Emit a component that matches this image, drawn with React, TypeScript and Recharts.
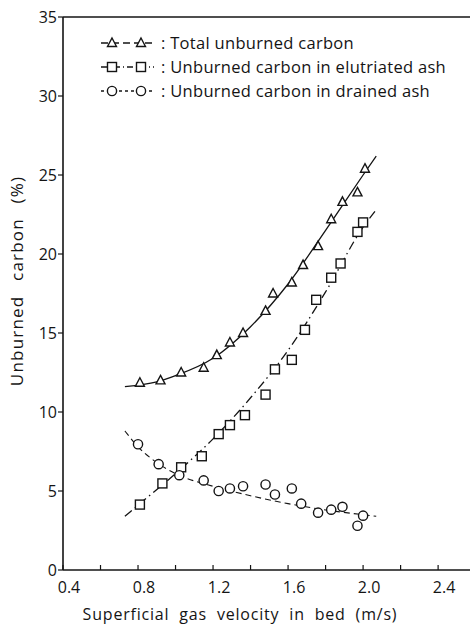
import { ComposedChart, Line, Scatter, XAxis, YAxis, ReferenceLine } from 'recharts'

// measured points
const totalX = [0.81, 0.92, 1.03, 1.15, 1.22, 1.29, 1.36, 1.48, 1.52, 1.62, 1.68, 1.76, 1.83, 1.89, 1.97, 2.01]
const totalY = [11.85, 12.0, 12.5, 12.8, 13.6, 14.4, 15.0, 16.4, 17.5, 18.2, 19.3, 20.5, 22.2, 23.3, 23.9, 25.4]

const elutX = [0.81, 0.93, 1.03, 1.14, 1.23, 1.29, 1.37, 1.48, 1.53, 1.62, 1.69, 1.75, 1.83, 1.88, 1.97, 2.0]
const elutY = [4.14, 5.48, 6.5, 7.2, 8.6, 9.17, 9.8, 11.1, 12.7, 13.3, 15.2, 17.1, 18.5, 19.4, 21.4, 22.0]

const drainX = [0.8, 0.91, 1.02, 1.15, 1.23, 1.29, 1.36, 1.48, 1.53, 1.62, 1.67, 1.76, 1.83, 1.89, 1.97, 2.0]
const drainY = [7.96, 6.7, 6.0, 5.67, 5.0, 5.16, 5.3, 5.41, 4.78, 5.16, 4.2, 3.63, 3.82, 4.0, 2.8, 3.44]

// fitted curves as drawn in the figure
const totalFitX = [0.73, 0.9, 1.0, 1.2, 1.4, 1.6, 1.8, 2.0, 2.07]
const totalFitY = [11.6, 11.9, 12.3, 13.4, 15.4, 18.1, 21.5, 25.0, 26.2]
const elutFitX = [0.73, 0.8, 1.0, 1.2, 1.4, 1.6, 1.8, 2.0, 2.07]
const elutFitY = [3.4, 4.1, 6.1, 8.3, 10.9, 13.9, 17.6, 21.7, 22.8]
const drainFitX = [0.73, 0.8, 0.9, 1.0, 1.2, 1.4, 1.6, 1.8, 2.0, 2.07]
const drainFitY = [8.8, 7.8, 6.8, 6.1, 5.3, 4.7, 4.2, 3.8, 3.5, 3.4]

const xTicks = [0.4, 0.6, 0.8, 1.0, 1.2, 1.4, 1.6, 1.8, 2.0, 2.2, 2.4]
const yTicks = [0, 5, 10, 15, 20, 25, 30, 35]

const toPts = (xs: number[], ys: number[]) => xs.map((x, i) => ({ x, y: ys[i] }))

const INK = '#141414'
const FONT = '"Open Sans", sans-serif'

function Tri({ cx, cy }: any) {
  return <path d={`M${cx},${cy - 5} L${cx + 4.5},${cy + 3.5} L${cx - 4.5},${cy + 3.5} Z`} fill="#fff" stroke={INK} strokeWidth={1.4} />
}
function Sq({ cx, cy }: any) {
  return <rect x={cx - 4.5} y={cy - 4.5} width={9} height={9} fill="#fff" stroke={INK} strokeWidth={1.4} />
}
function Circ({ cx, cy }: any) {
  return <circle cx={cx} cy={cy} r={4.6} fill="#fff" stroke={INK} strokeWidth={1.4} />
}

function XTick({ x, y, payload }: any) {
  const v = payload.value
  const major = Math.round(v * 10) % 4 === 0
  return (
    <g>
      <line x1={x} y1={y} x2={x} y2={y - 5} stroke={INK} strokeWidth={1.2} />
      {major && (
        <text x={x + 6} y={y + 23} textAnchor="middle" fontSize={16} fontFamily={FONT} fill={INK}>
          {v.toFixed(1)}
        </text>
      )}
    </g>
  )
}

function XTitle() {
  return (
    <text x={240} y={620} textAnchor="middle" fontSize={16} letterSpacing={0.8} wordSpacing={5} fontFamily={FONT} fill={INK}>
      Superficial gas velocity in bed (m/s)
    </text>
  )
}

function YTitle() {
  const cx = 16
  const cy = 281
  return (
    <text x={cx} y={cy} transform={`rotate(-90 ${cx} ${cy})`} textAnchor="middle" dominantBaseline="central" fontSize={17} letterSpacing={1.2} wordSpacing={9} fontFamily={FONT} fill={INK}>
      Unburned carbon (%)
    </text>
  )
}

const legendRows = [
  { label: 'Total unburned carbon', Mark: Tri, dash: '7 4' },
  { label: 'Unburned carbon in elutriated ash', Mark: Sq, dash: '6 3 1 3' },
  { label: 'Unburned carbon in drained ash', Mark: Circ, dash: '3 3' },
]

function LegendBox() {
  return (
    <div style={{ position: 'absolute', left: 100, top: 31, fontFamily: FONT, fontSize: 16.5, color: INK, lineHeight: '24px', whiteSpace: 'nowrap' }}>
      {legendRows.map(({ label, Mark, dash }) => (
        <div key={label} style={{ display: 'flex', alignItems: 'center' }}>
          <svg width={56} height={16}>
            <line x1={1} y1={8} x2={54} y2={8} stroke={INK} strokeWidth={1.3} strokeDasharray={dash} />
            <Mark cx={12} cy={8} />
            <Mark cx={41} cy={8} />
          </svg>
          <span style={{ marginLeft: 5, letterSpacing: 0.3 }}>: {label}</span>
        </div>
      ))}
    </div>
  )
}

export default function App() {
  return (
    <div style={{ position: 'absolute', left: 0, top: 0, width: 470, height: 626, background: '#fff' }}>
      <ComposedChart width={470} height={626} margin={{ top: 17, right: 0, bottom: 26, left: 3 }}>
        <XAxis
          dataKey="x"
          type="number"
          domain={[0.4, 2.57]}
          ticks={xTicks}
          allowDataOverflow
          interval={0}
          tick={<XTick />}
          tickLine={false}
          tickSize={0}
          tickMargin={0}
          height={30}
          axisLine={{ stroke: INK, strokeWidth: 1.4 }}
          label={<XTitle />}
        />
        <YAxis
          dataKey="y"
          type="number"
          domain={[0, 35]}
          ticks={yTicks}
          interval={0}
          width={60}
          tickSize={5}
          tickMargin={1}
          tick={{ fontSize: 16, fontFamily: FONT, fill: INK }}
          tickLine={{ stroke: INK, strokeWidth: 1.2 }}
          axisLine={{ stroke: INK, strokeWidth: 1.6 }}
          label={<YTitle />}
        />
        <ReferenceLine y={35} stroke={INK} strokeWidth={1.4} ifOverflow="visible" />
        <Line data={toPts(totalFitX, totalFitY)} dataKey="y" type="monotone" dot={false} stroke={INK} strokeWidth={1.3} isAnimationActive={false} />
        <Line data={toPts(elutFitX, elutFitY)} dataKey="y" type="monotone" dot={false} stroke={INK} strokeWidth={1.3} strokeDasharray="9 4 1.5 4" isAnimationActive={false} />
        <Line data={toPts(drainFitX, drainFitY)} dataKey="y" type="monotone" dot={false} stroke={INK} strokeWidth={1.1} strokeDasharray="6 4" isAnimationActive={false} />
        <Scatter data={toPts(totalX, totalY)} shape={<Tri />} isAnimationActive={false} />
        <Scatter data={toPts(elutX, elutY)} shape={<Sq />} isAnimationActive={false} />
        <Scatter data={toPts(drainX, drainY)} shape={<Circ />} isAnimationActive={false} />
      </ComposedChart>
      <LegendBox />
    </div>
  )
}
